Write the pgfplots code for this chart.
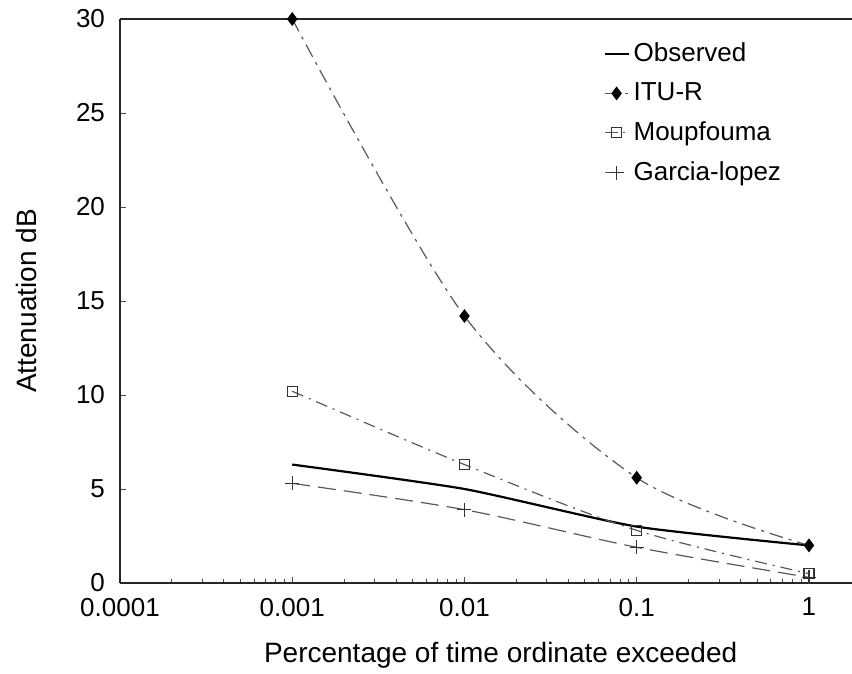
\documentclass[border=0pt]{standalone}
\usepackage{fontspec}
\setmainfont{Liberation Sans}
\usepackage{pgfplots}
\pgfplotsset{compat=1.18}
\newcommand\lbl{\fontsize{13}{15}\selectfont}
\newcommand\axlbl{\fontsize{14}{16}\selectfont}

\begin{document}
\begin{tikzpicture}
\begin{axis}[
    scale only axis,
    width=366pt, height=282pt,
    xmode=log,
    xmin=1e-4, xmax=1.778,
    ymin=0, ymax=30,
    axis x line=box, axis y line=left,
    axis line style={-, black!85, line width=0.8pt},
    xtick={1e-4,1e-3,1e-2,1e-1,1},
    xticklabels={0.0001,0.001,0.01,0.1,1},
    ytick={0,5,10,15,20,25,30},
    xtick pos=bottom, ytick pos=left,
    tick align=inside,
    major tick length=3pt, minor tick length=2pt,
    tick style={black!70, line width=0.4pt},
    /pgf/number format/assume math mode=true,
    tick label style={font=\lbl},
    xticklabel style={yshift=-4pt},
    yticklabel style={xshift=-4pt},
    xlabel={Percentage of time ordinate exceeded},
    ylabel={Attenuation dB},
    every axis x label/.style={at={(axis description cs:0.52,0)}, anchor=center, yshift=-36pt, font=\axlbl},
    every axis y label/.style={at={(axis description cs:-0.128,0.5)}, anchor=center, rotate=90, font=\axlbl},
    clip=false,
    legend style={at={(axis description cs:0.66,0.965)}, anchor=north west,
        draw=none, fill=none, font=\lbl, row sep=5pt, inner sep=0pt,
        cells={anchor=west}},
    legend image code/.code={\draw[mark repeat=2, mark phase=2, #1]
        plot coordinates {(0cm,0cm) (0.21cm,0cm) (0.42cm,0cm)};},
    /tikz/every even column/.append style={column sep=1pt},
]
% Observed
\addplot[black, line width=1.1pt, smooth, tension=0.35]
    coordinates {(0.001,6.3) (0.01,5.0) (0.1,3.0) (1,2.0)};
\addlegendentry{Observed}
% ITU-R
\addplot[black!65, line width=0.6pt, smooth, dash pattern=on 7pt off 3pt on 1.5pt off 3pt,
    mark=diamond*, mark size=3pt, mark options={solid, fill=black, draw=black}]
    coordinates {(0.001,30) (0.01,14.2) (0.1,5.6) (1,2.0)};
\addlegendentry{ITU-R}
% Moupfouma
\addplot[black!65, line width=0.6pt, smooth, dash pattern=on 6pt off 3pt on 1pt off 3pt,
    mark=square, mark size=2.5pt, mark options={solid, draw=black!80}]
    coordinates {(0.001,10.2) (0.01,6.3) (0.1,2.8) (1,0.5)};
\addlegendentry{Moupfouma}
% Garcia-lopez
\addplot[black!65, line width=0.6pt, smooth, dash pattern=on 9pt off 4pt,
    mark=+, mark size=3.5pt, mark options={solid, draw=black!80}]
    coordinates {(0.001,5.3) (0.01,3.9) (0.1,1.9) (1,0.3)};
\addlegendentry{Garcia-lopez}
\end{axis}
\pgfresetboundingbox
\path[use as bounding box] (current axis.south west) ++(-60pt,-45pt)
    rectangle ([yshift=9.5pt]current axis.north east);
\end{tikzpicture}
\end{document}
